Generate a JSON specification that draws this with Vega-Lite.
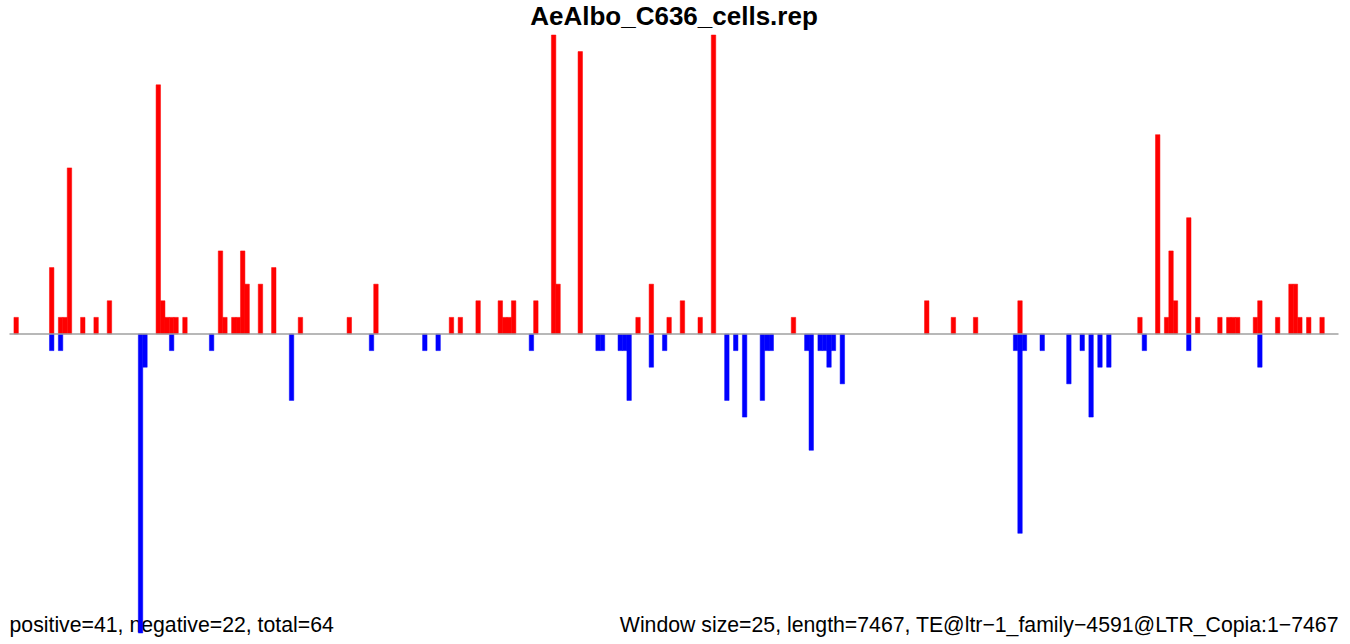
{
  "$schema": "https://vega.github.io/schema/vega-lite/v6.json",
  "autosize": {"type": "none"},
  "width": 1329,
  "height": 598,
  "padding": {"left": 9.5, "top": 35, "right": 11.5, "bottom": 11},
  "background": "white",
  "config": {"view": {"stroke": null}},
  "title": {
    "text": "AeAlbo_C636_cells.rep",
    "font": "Liberation Sans",
    "fontSize": 26,
    "fontWeight": "bold",
    "color": "#000000",
    "anchor": "middle",
    "baseline": "alphabetic",
    "offset": -16
  },
  "data": {"name": "bars"},
  "datasets": {
    "bars": [
      {"start": 25, "end": 50, "v": 1, "s": "+"},
      {"start": 225, "end": 250, "v": 4, "s": "+"},
      {"start": 275, "end": 300, "v": 1, "s": "+"},
      {"start": 300, "end": 325, "v": 1, "s": "+"},
      {"start": 325, "end": 350, "v": 10, "s": "+"},
      {"start": 400, "end": 425, "v": 1, "s": "+"},
      {"start": 475, "end": 500, "v": 1, "s": "+"},
      {"start": 550, "end": 575, "v": 2, "s": "+"},
      {"start": 825, "end": 850, "v": 15, "s": "+"},
      {"start": 850, "end": 875, "v": 2, "s": "+"},
      {"start": 875, "end": 900, "v": 1, "s": "+"},
      {"start": 900, "end": 925, "v": 1, "s": "+"},
      {"start": 925, "end": 950, "v": 1, "s": "+"},
      {"start": 975, "end": 1000, "v": 1, "s": "+"},
      {"start": 1175, "end": 1200, "v": 5, "s": "+"},
      {"start": 1200, "end": 1225, "v": 1, "s": "+"},
      {"start": 1250, "end": 1275, "v": 1, "s": "+"},
      {"start": 1275, "end": 1300, "v": 1, "s": "+"},
      {"start": 1300, "end": 1325, "v": 5, "s": "+"},
      {"start": 1325, "end": 1350, "v": 3, "s": "+"},
      {"start": 1400, "end": 1425, "v": 3, "s": "+"},
      {"start": 1475, "end": 1500, "v": 4, "s": "+"},
      {"start": 1625, "end": 1650, "v": 1, "s": "+"},
      {"start": 1900, "end": 1925, "v": 1, "s": "+"},
      {"start": 2050, "end": 2075, "v": 3, "s": "+"},
      {"start": 2475, "end": 2500, "v": 1, "s": "+"},
      {"start": 2525, "end": 2550, "v": 1, "s": "+"},
      {"start": 2625, "end": 2650, "v": 2, "s": "+"},
      {"start": 2750, "end": 2775, "v": 2, "s": "+"},
      {"start": 2775, "end": 2800, "v": 1, "s": "+"},
      {"start": 2800, "end": 2825, "v": 1, "s": "+"},
      {"start": 2825, "end": 2850, "v": 2, "s": "+"},
      {"start": 2950, "end": 2975, "v": 2, "s": "+"},
      {"start": 3050, "end": 3075, "v": 18, "s": "+"},
      {"start": 3075, "end": 3100, "v": 3, "s": "+"},
      {"start": 3200, "end": 3225, "v": 17, "s": "+"},
      {"start": 3525, "end": 3550, "v": 1, "s": "+"},
      {"start": 3600, "end": 3625, "v": 3, "s": "+"},
      {"start": 3700, "end": 3725, "v": 1, "s": "+"},
      {"start": 3775, "end": 3800, "v": 2, "s": "+"},
      {"start": 3875, "end": 3900, "v": 1, "s": "+"},
      {"start": 3950, "end": 3975, "v": 18, "s": "+"},
      {"start": 4400, "end": 4425, "v": 1, "s": "+"},
      {"start": 5150, "end": 5175, "v": 2, "s": "+"},
      {"start": 5300, "end": 5325, "v": 1, "s": "+"},
      {"start": 5425, "end": 5450, "v": 1, "s": "+"},
      {"start": 5675, "end": 5700, "v": 2, "s": "+"},
      {"start": 6350, "end": 6375, "v": 1, "s": "+"},
      {"start": 6450, "end": 6475, "v": 12, "s": "+"},
      {"start": 6500, "end": 6525, "v": 1, "s": "+"},
      {"start": 6525, "end": 6550, "v": 5, "s": "+"},
      {"start": 6550, "end": 6575, "v": 2, "s": "+"},
      {"start": 6625, "end": 6650, "v": 7, "s": "+"},
      {"start": 6675, "end": 6700, "v": 1, "s": "+"},
      {"start": 6800, "end": 6825, "v": 1, "s": "+"},
      {"start": 6850, "end": 6875, "v": 1, "s": "+"},
      {"start": 6875, "end": 6900, "v": 1, "s": "+"},
      {"start": 6900, "end": 6925, "v": 1, "s": "+"},
      {"start": 7000, "end": 7025, "v": 1, "s": "+"},
      {"start": 7025, "end": 7050, "v": 2, "s": "+"},
      {"start": 7125, "end": 7150, "v": 1, "s": "+"},
      {"start": 7200, "end": 7225, "v": 3, "s": "+"},
      {"start": 7225, "end": 7250, "v": 3, "s": "+"},
      {"start": 7250, "end": 7275, "v": 1, "s": "+"},
      {"start": 7300, "end": 7325, "v": 1, "s": "+"},
      {"start": 7375, "end": 7400, "v": 1, "s": "+"},
      {"start": 225, "end": 250, "v": -1, "s": "-"},
      {"start": 275, "end": 300, "v": -1, "s": "-"},
      {"start": 725, "end": 750, "v": -18, "s": "-"},
      {"start": 750, "end": 775, "v": -2, "s": "-"},
      {"start": 900, "end": 925, "v": -1, "s": "-"},
      {"start": 1125, "end": 1150, "v": -1, "s": "-"},
      {"start": 1575, "end": 1600, "v": -4, "s": "-"},
      {"start": 2025, "end": 2050, "v": -1, "s": "-"},
      {"start": 2325, "end": 2350, "v": -1, "s": "-"},
      {"start": 2400, "end": 2425, "v": -1, "s": "-"},
      {"start": 2925, "end": 2950, "v": -1, "s": "-"},
      {"start": 3300, "end": 3325, "v": -1, "s": "-"},
      {"start": 3325, "end": 3350, "v": -1, "s": "-"},
      {"start": 3425, "end": 3450, "v": -1, "s": "-"},
      {"start": 3450, "end": 3475, "v": -1, "s": "-"},
      {"start": 3475, "end": 3500, "v": -4, "s": "-"},
      {"start": 3600, "end": 3625, "v": -2, "s": "-"},
      {"start": 3675, "end": 3700, "v": -1, "s": "-"},
      {"start": 4025, "end": 4050, "v": -4, "s": "-"},
      {"start": 4075, "end": 4100, "v": -1, "s": "-"},
      {"start": 4125, "end": 4150, "v": -5, "s": "-"},
      {"start": 4225, "end": 4250, "v": -4, "s": "-"},
      {"start": 4250, "end": 4275, "v": -1, "s": "-"},
      {"start": 4275, "end": 4300, "v": -1, "s": "-"},
      {"start": 4475, "end": 4500, "v": -1, "s": "-"},
      {"start": 4500, "end": 4525, "v": -7, "s": "-"},
      {"start": 4550, "end": 4575, "v": -1, "s": "-"},
      {"start": 4575, "end": 4600, "v": -1, "s": "-"},
      {"start": 4600, "end": 4625, "v": -2, "s": "-"},
      {"start": 4625, "end": 4650, "v": -1, "s": "-"},
      {"start": 4675, "end": 4700, "v": -3, "s": "-"},
      {"start": 5650, "end": 5675, "v": -1, "s": "-"},
      {"start": 5675, "end": 5700, "v": -12, "s": "-"},
      {"start": 5700, "end": 5725, "v": -1, "s": "-"},
      {"start": 5800, "end": 5825, "v": -1, "s": "-"},
      {"start": 5950, "end": 5975, "v": -3, "s": "-"},
      {"start": 6025, "end": 6050, "v": -1, "s": "-"},
      {"start": 6075, "end": 6100, "v": -5, "s": "-"},
      {"start": 6125, "end": 6150, "v": -2, "s": "-"},
      {"start": 6175, "end": 6200, "v": -2, "s": "-"},
      {"start": 6375, "end": 6400, "v": -1, "s": "-"},
      {"start": 6625, "end": 6650, "v": -1, "s": "-"},
      {"start": 7025, "end": 7050, "v": -2, "s": "-"}
    ]
  },
  "layer": [
    {
      "data": {"values": [{"label": "positive=41, negative=22, total=64"}]},
      "mark": {"type": "text", "align": "left", "baseline": "alphabetic", "font": "Liberation Sans", "fontSize": 21.25, "color": "#000000", "dy": -1},
      "encoding": {
        "text": {"field": "label", "type": "nominal"},
        "x": {"datum": 0, "type": "quantitative"},
        "y": {"datum": -18, "type": "quantitative"}
      }
    },
    {
      "data": {"values": [{"label": "Window size=25, length=7467, TE@ltr\u22121_family\u22124591@LTR_Copia:1\u22127467"}]},
      "mark": {"type": "text", "align": "right", "baseline": "alphabetic", "font": "Liberation Sans", "fontSize": 21.25, "color": "#000000", "dy": -1},
      "encoding": {
        "text": {"field": "label", "type": "nominal"},
        "x": {"datum": 7480, "type": "quantitative"},
        "y": {"datum": -18, "type": "quantitative"}
      }
    },
    {
      "mark": {"type": "bar", "strokeWidth": 0.5},
      "encoding": {
        "x": {"field": "start", "type": "quantitative"},
        "x2": {"field": "end"},
        "y": {"field": "v", "type": "quantitative"},
        "y2": {"datum": 0},
        "color": {"field": "s", "type": "nominal", "scale": {"domain": ["+", "-"], "range": ["#ff0000", "#0000ff"]}, "legend": null},
        "stroke": {"field": "s", "type": "nominal", "scale": {"domain": ["+", "-"], "range": ["#ff0000", "#0000ff"]}, "legend": null}
      }
    },
    {
      "data": {"values": [{"label": "baseline"}]},
      "mark": {"type": "rule", "color": "#a0a0a0", "strokeWidth": 1.5},
      "encoding": {"y": {"datum": 0, "type": "quantitative"}}
    }
  ],
  "resolve": {"scale": {"x": "shared", "y": "shared"}},
  "encoding": {
    "x": {"type": "quantitative", "scale": {"domain": [0, 7480], "nice": false, "zero": false}, "axis": null},
    "y": {"type": "quantitative", "scale": {"domain": [-18, 18], "nice": false}, "axis": null}
  }
}
